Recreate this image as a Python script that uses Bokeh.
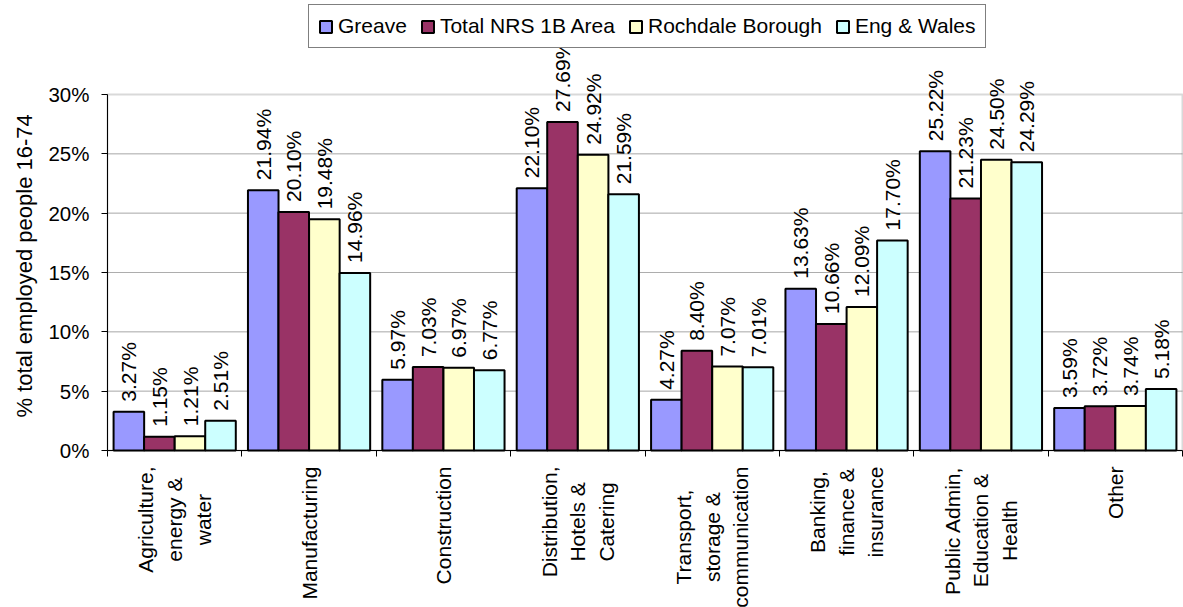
from math import pi
from bokeh.plotting import figure
from bokeh.models import (ColumnDataSource, Range1d, FixedTicker, PrintfTickFormatter,
                          Label, Legend, LegendItem, BoxAnnotation)
from bokeh.embed import file_html
from bokeh.resources import INLINE

categories = ["Agriculture,\nenergy &\nwater", "Manufacturing", "Construction",
              "Distribution,\nHotels &\nCatering", "Transport,\nstorage &\ncommunication",
              "Banking,\nfinance &\ninsurance", "Public Admin,\nEducation &\nHealth", "Other"]
series_names = ["Greave", "Total NRS 1B Area", "Rochdale Borough", "Eng & Wales"]
greave = [3.27, 21.94, 5.97, 22.10, 4.27, 13.63, 25.22, 3.59]
total_nrs = [1.15, 20.10, 7.03, 27.69, 8.40, 10.66, 21.23, 3.72]
rochdale = [1.21, 19.48, 6.97, 24.92, 7.07, 12.09, 24.50, 3.74]
eng_wales = [2.51, 14.96, 6.77, 21.59, 7.01, 17.70, 24.29, 5.18]
y_ticks = [0, 5, 10, 15, 20, 25, 30]
y_title = "% total employed people 16-74"
colors = ["#9999FF", "#993366", "#FFFFCC", "#CCFFFF"]

FONT = "Liberation Sans"

# Arial / Liberation Sans advance widths (per 1000 em) used to centre wrapped category labels
_W = {"A": 667, "B": 667, "C": 722, "D": 722, "E": 667, "H": 722, "M": 833, "O": 778,
      "P": 667, "T": 611, "a": 556, "b": 556, "c": 500, "d": 556, "e": 556, "f": 278,
      "g": 556, "h": 556, "i": 222, "k": 500, "l": 222, "m": 833, "n": 556, "o": 556,
      "p": 556, "r": 333, "s": 500, "t": 278, "u": 556, "v": 500, "w": 722, "y": 500,
      " ": 278, ",": 278, "&": 667}


def text_px(s, size):
    return sum(_W.get(ch, 556) for ch in s) * size / 1000.0


# layout (pixels): the frame covers the whole canvas; the plot area spans
# x 107..1182 and y 94 (30%) .. 450 (0%)
W, H = 1183, 607
AREA_L, AREA_R, AREA_TOP, AREA_BOTTOM = 107, 1182, 94, 450
Y_MAX = 30
n_cat = len(categories)
px_per_unit = (AREA_BOTTOM - AREA_TOP) / Y_MAX
px_per_cat = (AREA_R - AREA_L) / n_cat
x_lo = -AREA_L / px_per_cat
x_hi = n_cat + (W - AREA_R) / px_per_cat
y_lo = -(H - AREA_BOTTOM) / px_per_unit
y_hi = Y_MAX + AREA_TOP / px_per_unit

p = figure(width=W, height=H, x_range=Range1d(x_lo, x_hi), y_range=Range1d(y_lo, y_hi),
           output_backend="svg", toolbar_location=None,
           min_border_left=0, min_border_right=0, min_border_top=0, min_border_bottom=0)
p.outline_line_color = None
p.background_fill_color = "white"

# plot-area border (grey top and right edges)
p.add_layout(BoxAnnotation(left=0, right=n_cat, bottom=0, top=Y_MAX, fill_color=None,
                           line_color="#808080", line_width=2, level="underlay"))

bar_w = 0.2275
offsets = [-0.341, -0.114, 0.114, 0.341]
renderers = []
for name, vals, col, off in zip(series_names, [greave, total_nrs, rochdale, eng_wales], colors, offsets):
    xs = [i + 0.5 + off for i in range(n_cat)]
    src = ColumnDataSource(dict(x=xs, top=vals))
    r = p.vbar(x="x", top="top", bottom=0, width=bar_w, source=src,
               fill_color=col, line_color="black", line_width=2)
    renderers.append(r)
    for x, v in zip(xs, vals):
        p.add_layout(Label(x=x, y=v, text=f"{v:.2f}%", angle=pi / 2,
                           text_align="left", text_baseline="middle", y_offset=10,
                           text_font=FONT, text_font_size="21px", text_color="black"))

# horizontal grid lines, limited to the plot area
p.xgrid.visible = False
p.ygrid.visible = False
for t in y_ticks[1:-1]:
    p.add_layout(BoxAnnotation(left=0, right=n_cat, bottom=t, top=t, fill_color=None,
                               line_color="#5f5f5f", line_width=1, level="underlay"))

# y axis, fixed at the left edge of the plot area
yax = p.yaxis[0]
yax.fixed_location = 0
yax.bounds = (0, Y_MAX)
yax.ticker = FixedTicker(ticks=y_ticks)
yax.formatter = PrintfTickFormatter(format="%d%%")
yax.major_tick_out = 6
yax.major_tick_in = 0
yax.minor_tick_line_color = None
yax.axis_line_color = "black"
yax.major_tick_line_color = "black"
yax.major_label_text_font = FONT
yax.major_label_text_font_size = "20.5px"
yax.major_label_text_color = "black"
yax.major_label_standoff = 12

p.add_layout(Label(x=0, y=0, text=y_title, angle=pi / 2, text_align="left",
                   text_baseline="alphabetic", x_offset=-83, y_offset=33,
                   text_font=FONT, text_font_size="22px", text_color="black"))

# x axis along 0%, tick marks at category boundaries
xax = p.xaxis[0]
xax.fixed_location = 0
xax.bounds = (0, n_cat)
xax.ticker = FixedTicker(ticks=[], minor_ticks=list(range(n_cat + 1)))
xax.major_tick_out = 0
xax.major_tick_in = 0
xax.minor_tick_out = 6
xax.minor_tick_in = 0
xax.minor_tick_line_color = "black"
xax.axis_line_color = "black"

centers = [i + 0.5 for i in range(n_cat)]
for c, lab in zip(centers, categories):
    longest = max(text_px(line, 21) for line in lab.split("\n"))
    p.add_layout(Label(x=c, y=0, text=lab, angle=pi / 2, text_align="center",
                       text_baseline="middle", y_offset=-(16 + longest / 2),
                       text_font=FONT, text_font_size="21px", text_color="black",
                       text_line_height=1.25))

legend = Legend(items=[LegendItem(label=n, renderers=[r]) for n, r in zip(series_names, renderers)],
                orientation="horizontal", location=(308, H - 48))
legend.border_line_color = "black"
legend.border_line_width = 1
legend.background_fill_color = "white"
legend.background_fill_alpha = 1
legend.label_text_font = FONT
legend.label_text_font_size = "21px"
legend.label_text_color = "black"
legend.glyph_width = 15
legend.glyph_height = 15
legend.label_standoff = 5
legend.spacing = 13
legend.padding = 9
legend.margin = 0
p.add_layout(legend, "center")

open("out.html", "w").write(file_html(p, INLINE))
